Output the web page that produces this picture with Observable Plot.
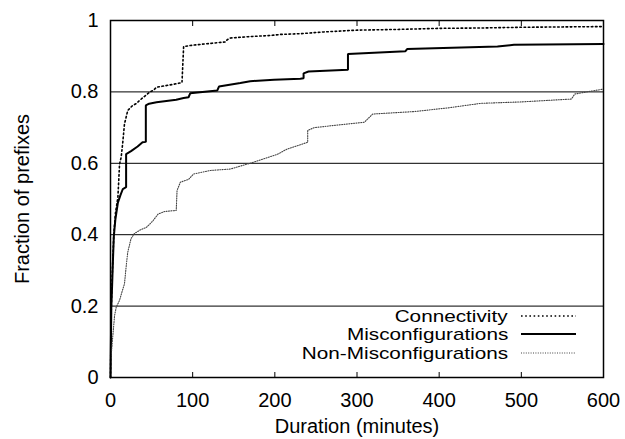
<!DOCTYPE html>
<html>
<head>
<meta charset="utf-8">
<script src="https://cdn.jsdelivr.net/npm/d3@7"></script>
<script src="https://cdn.jsdelivr.net/npm/@observablehq/plot@0.6"></script>
<style>
  body { margin: 0; background: #fff; }
  #wrap { position: relative; width: 625px; height: 439px; font-family: "Liberation Sans", Arial, sans-serif; }
  #legend { position: absolute; right: 49px; top: 307px; }
  .row { display: flex; align-items: center; justify-content: flex-end; height: 18.3px; }
  .row span { font-size: 17px; transform: scaleX(1.22); transform-origin: right center; white-space: nowrap; color: #000; position: relative; top: 1px; }
  .row svg { margin-left: 13px; display: block; }
</style>
</head>
<body>
<div id="wrap"></div>
<script>
// ---- data ----
const seriesNames = ["Connectivity", "Misconfigurations", "Non-Misconfigurations"];

const connectivityMinutes  = [0, 1, 2, 3, 4, 6, 9, 10, 11, 13, 15, 17, 21, 26, 31, 40, 48, 52, 56, 61, 76, 87, 89, 97, 109, 122, 140, 142, 146, 170, 195, 207, 231, 260, 300, 350, 400, 450, 500, 550, 600];
const connectivityFraction = [0, 0.2, 0.28, 0.34, 0.40, 0.46, 0.505, 0.55, 0.598, 0.617, 0.66, 0.71, 0.748, 0.76, 0.767, 0.785, 0.80, 0.804, 0.813, 0.815, 0.821, 0.826, 0.927, 0.93, 0.933, 0.936, 0.94, 0.946, 0.951, 0.955, 0.958, 0.961, 0.963, 0.968, 0.973, 0.975, 0.978, 0.979, 0.981, 0.982, 0.983];

const misconfigMinutes  = [0, 1, 2, 3, 4, 5, 6, 9, 12, 15, 19, 19, 25, 33, 39, 43, 43, 47, 56, 80, 89, 95, 97, 130, 132, 158, 170, 199, 231, 235, 235, 241, 289, 289, 359, 361, 471, 491, 600];
const misconfigFraction = [0, 0.197, 0.26, 0.33, 0.393, 0.42, 0.444, 0.49, 0.51, 0.528, 0.533, 0.626, 0.634, 0.647, 0.659, 0.66, 0.762, 0.767, 0.771, 0.778, 0.783, 0.785, 0.796, 0.804, 0.815, 0.825, 0.83, 0.834, 0.837, 0.838, 0.852, 0.857, 0.862, 0.906, 0.914, 0.92, 0.927, 0.932, 0.934];

const nonMisconfigMinutes  = [0, 1, 3, 5, 7, 11, 14, 17, 19, 21, 23, 25, 29, 36, 44, 52, 58, 66, 80, 81, 85, 95, 101, 122, 146, 174, 203, 215, 231, 240, 240, 248, 288, 309, 319, 370, 410, 451, 500, 561, 565, 600];
const nonMisconfigFraction = [0, 0.067, 0.122, 0.174, 0.197, 0.216, 0.24, 0.262, 0.31, 0.351, 0.37, 0.389, 0.403, 0.413, 0.421, 0.44, 0.458, 0.465, 0.468, 0.524, 0.547, 0.555, 0.57, 0.58, 0.584, 0.603, 0.625, 0.64, 0.652, 0.659, 0.692, 0.70, 0.71, 0.715, 0.738, 0.745, 0.755, 0.768, 0.772, 0.78, 0.794, 0.808];

const xTicks = [0, 100, 200, 300, 400, 500, 600];
const xInnerTicks = [100, 200, 300, 400, 500];
const yTicks = [0, 0.2, 0.4, 0.6, 0.8, 1];
const yGrid = [0.2, 0.4, 0.6, 0.8];
const yTickLabels = ["0", "0.2", "0.4", "0.6", "0.8", "1"];

// ---- styles per series ----
const styles = {
  "Connectivity":          { stroke: "#000", strokeWidth: 1.6, strokeDasharray: "1.6,2.6" },
  "Misconfigurations":     { stroke: "#000", strokeWidth: 2, strokeDasharray: null },
  "Non-Misconfigurations": { stroke: "#444", strokeWidth: 1.1, strokeDasharray: "1,1.4" }
};

const seriesData = [
  connectivityMinutes.map((m, i) => ({ series: seriesNames[0], minutes: m, fraction: connectivityFraction[i] })),
  misconfigMinutes.map((m, i) => ({ series: seriesNames[1], minutes: m, fraction: misconfigFraction[i] })),
  nonMisconfigMinutes.map((m, i) => ({ series: seriesNames[2], minutes: m, fraction: nonMisconfigFraction[i] }))
];

const lineMarks = seriesData.map((d, i) => {
  const s = styles[seriesNames[i]];
  const opts = { x: "minutes", y: "fraction", stroke: s.stroke, strokeWidth: s.strokeWidth, strokeLinejoin: "miter" };
  if (s.strokeDasharray) opts.strokeDasharray = s.strokeDasharray;
  return Plot.line(d, opts);
});

const chart = Plot.plot({
  width: 625,
  height: 439,
  marginLeft: 110,
  marginRight: 22,
  marginTop: 20,
  marginBottom: 62,
  style: { fontFamily: "'Liberation Sans', Arial, sans-serif", fontSize: "20px", color: "#000", background: "#fff" },
  x: { domain: [0, 600] },
  y: { domain: [0, 1] },
  marks: [
    Plot.gridY(yGrid, { stroke: "#000", strokeOpacity: 1, strokeWidth: 1 }),
    ...lineMarks,
    Plot.axisX(xTicks, { anchor: "bottom", tickSize: 0, tickPadding: 15, fontSize: 20,
      label: "Duration (minutes)", labelArrow: "none", labelAnchor: "center", labelOffset: 55 }),
    Plot.axisX(xInnerTicks, { anchor: "bottom", tickSize: -5, tickFormat: () => "", label: null, stroke: "#000" }),
    Plot.axisX(xInnerTicks, { anchor: "top", tickSize: -5, tickFormat: () => "", label: null, stroke: "#000" }),
    Plot.axisY(yTicks, { anchor: "left", tickSize: 0, tickPadding: 12, fontSize: 20,
      tickFormat: (d, i) => yTickLabels[i],
      label: "Fraction of prefixes", labelArrow: "none", labelAnchor: "center", labelOffset: 96 }),
    Plot.frame({ stroke: "#000", strokeWidth: 1.5 })
  ]
});

const wrap = document.getElementById("wrap");
wrap.appendChild(chart);

// ---- legend (inside the plot, bottom right) ----
const legend = document.createElement("div");
legend.id = "legend";
seriesNames.forEach(name => {
  const s = styles[name];
  const row = document.createElement("div");
  row.className = "row";
  const span = document.createElement("span");
  span.textContent = name;
  row.appendChild(span);
  const ns = "http://www.w3.org/2000/svg";
  const svg = document.createElementNS(ns, "svg");
  svg.setAttribute("width", "55");
  svg.setAttribute("height", "8");
  const ln = document.createElementNS(ns, "line");
  ln.setAttribute("x1", "0"); ln.setAttribute("x2", "55");
  ln.setAttribute("y1", "4"); ln.setAttribute("y2", "4");
  ln.setAttribute("stroke", s.stroke);
  ln.setAttribute("stroke-width", s.strokeWidth);
  if (s.strokeDasharray) ln.setAttribute("stroke-dasharray", s.strokeDasharray);
  svg.appendChild(ln);
  row.appendChild(svg);
  legend.appendChild(row);
});
wrap.appendChild(legend);
</script>
</body>
</html>
